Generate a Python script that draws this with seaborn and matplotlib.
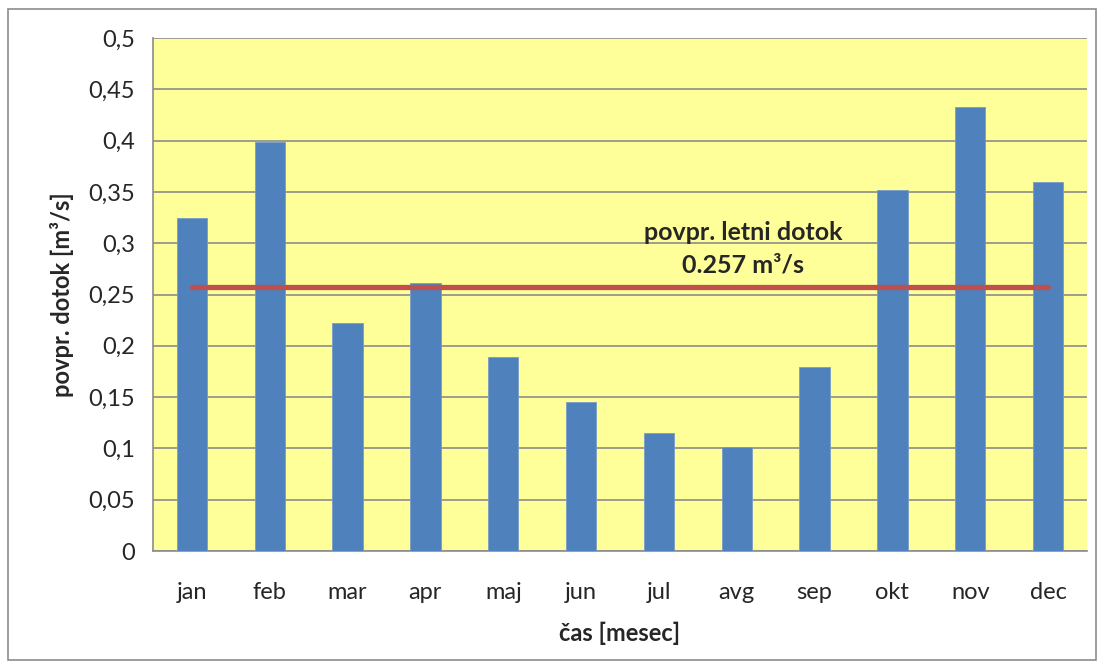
import pandas as pd
import matplotlib
matplotlib.use("Agg")
import matplotlib.pyplot as plt
import seaborn as sns
from matplotlib.patches import Rectangle
from matplotlib.ticker import FuncFormatter, MultipleLocator

# monthly mean inflow
months = ["jan", "feb", "mar", "apr", "maj", "jun", "jul", "avg", "sep", "okt", "nov", "dec"]
inflow = [0.325, 0.399, 0.222, 0.261, 0.189, 0.145, 0.115, 0.101, 0.179, 0.352, 0.433, 0.360]
mean_inflow = 0.257

df = pd.DataFrame({"mesec": months, "dotok": inflow})

sns.set_style("white")
plt.rcParams["font.family"] = ["Lato", "DejaVu Sans"]

fig = plt.figure(figsize=(11.04, 6.68), dpi=100)
ax = fig.add_axes([0.1386, 0.1751, 0.846, 0.768])
ax.set_facecolor("#FFFF99")

sns.barplot(data=df, x="mesec", y="dotok", color="#4F81BD", saturation=1,
            width=0.39, edgecolor="#7A9CC8", linewidth=0.6, ax=ax, zorder=3)

# average line
ax.hlines(mean_inflow, 0, len(months) - 1, color="#C0504D", linewidth=3.8,
          capstyle="round", zorder=4)
ax.text(7.08, 0.2945, "povpr. letni dotok\n%.3f m³/s" % mean_inflow, ha="center",
        va="center", fontsize=18, fontweight="bold", linespacing=1.5, zorder=5)

ax.set_ylim(0, 0.5)
ax.set_xlim(-0.5, len(months) - 0.5)
ax.yaxis.set_major_locator(MultipleLocator(0.05))
ax.yaxis.set_major_formatter(FuncFormatter(lambda v, p: ("%g" % round(v, 2)).replace(".", ",")))
ax.grid(axis="y", color="#8C8C8C", linewidth=1.2, zorder=1)
ax.set_axisbelow(True)

# ticks between categories on x
ax.set_xticks([i + 0.5 for i in range(-1, len(months))], minor=True)
ax.tick_params(axis="x", which="major", length=0, labelsize=17, pad=22)
ax.tick_params(axis="x", which="minor", length=7, color="#8C8C8C", width=1.2)
ax.tick_params(axis="y", length=7, color="#8C8C8C", width=1.2, labelsize=17, pad=6)

for s in ["top", "right"]:
    ax.spines[s].set_visible(False)
for s in ["left", "bottom"]:
    ax.spines[s].set_color("#8C8C8C")
    ax.spines[s].set_linewidth(1.2)

ax.set_xlabel("čas [mesec]", fontsize=17, fontweight="bold", labelpad=14)
ax.set_ylabel("povpr. dotok [m³/s]", fontsize=17, fontweight="bold", labelpad=10)

# outer chart border
fig.patches.append(Rectangle((8 / 1104, 8 / 668), 1088 / 1104, 651 / 668,
                             transform=fig.transFigure, fill=False,
                             edgecolor="#8C8C8C", linewidth=1.2))

fig.savefig("out.png", dpi=100)
